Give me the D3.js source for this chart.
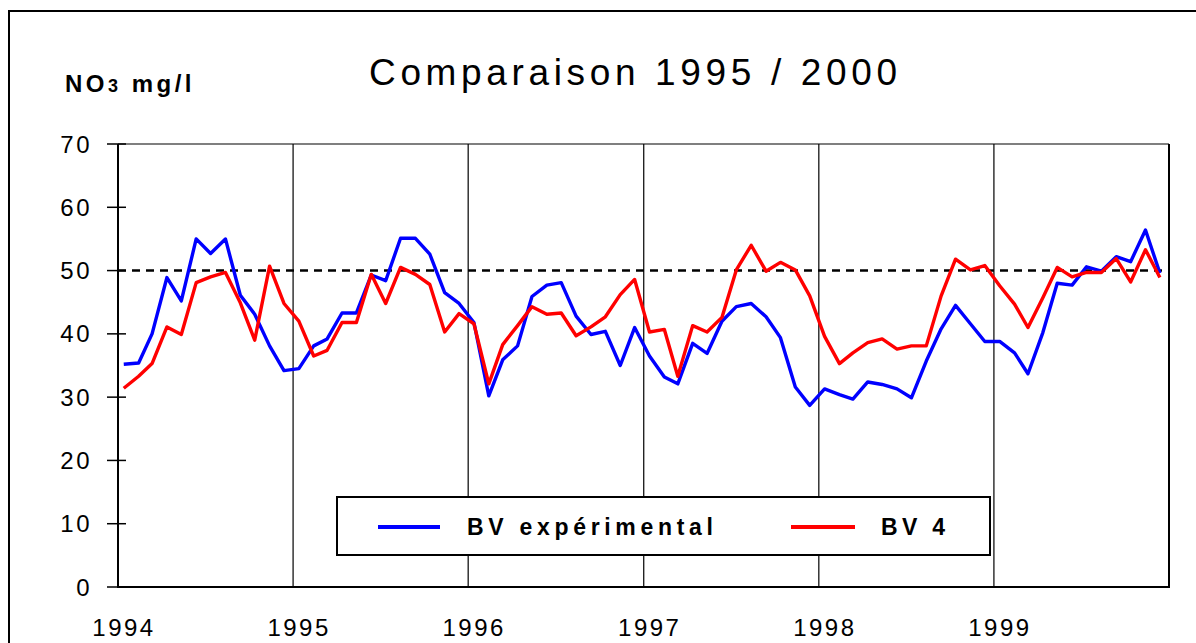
<!DOCTYPE html>
<html>
<head>
<meta charset="utf-8">
<script src="https://cdn.jsdelivr.net/npm/d3@7"></script>
<style>
  html, body { margin: 0; padding: 0; background: #fff; }
  svg { display: block; }
  text { font-family: "Liberation Sans", Arial, Helvetica, sans-serif; fill: #000; }
</style>
</head>
<body>
<svg id="chart" width="1196" height="643"></svg>
<script>
// ---- data ----
const title = "Comparaison 1995 / 2000";
const yTicks = [0, 10, 20, 30, 40, 50, 60, 70];
const yearTicks = [1994, 1995, 1996, 1997, 1998, 1999];
const threshold = 50;
const seriesNames = ["BV expérimental", "BV 4"];
const bvExperimental = [
  35.2, 35.4, 40.0, 48.9, 45.2, 55.0, 52.7, 55.0, 46.1, 43.1, 38.1, 34.2,
  34.5, 38.1, 39.2, 43.3, 43.3, 49.3, 48.4, 55.1, 55.1, 52.6, 46.5, 44.8,
  41.8, 30.2, 35.9, 38.1, 45.9, 47.7, 48.1, 42.8, 39.9, 40.4, 35.0, 41.0,
  36.5, 33.2, 32.1, 38.5, 36.9, 42.0, 44.3, 44.8, 42.7, 39.4, 31.6, 28.7,
  31.3, 30.4, 29.7, 32.4, 32.0, 31.3, 29.9, 35.7, 40.8, 44.5, 41.6, 38.8,
  38.8, 37.0, 33.7, 40.2, 48.0, 47.7, 50.6, 49.9, 52.2, 51.4, 56.4, 49.6
];
const bv4 = [
  31.4, 33.3, 35.3, 41.1, 39.9, 48.1, 49.0, 49.7, 44.9, 39.0, 50.7, 44.8,
  42.0, 36.5, 37.4, 41.8, 41.8, 49.4, 44.8, 50.5, 49.4, 47.8, 40.3, 43.2,
  41.6, 32.1, 38.3, 41.3, 44.3, 43.1, 43.3, 39.7, 41.1, 42.7, 46.2, 48.6,
  40.3, 40.7, 33.3, 41.3, 40.3, 42.6, 50.1, 54.0, 49.9, 51.3, 50.1, 46.0,
  39.6, 35.3, 37.0, 38.6, 39.2, 37.6, 38.1, 38.1, 46.0, 51.8, 50.1, 50.8,
  47.6, 44.7, 41.0, 45.7, 50.5, 49.0, 49.7, 49.7, 51.9, 48.2, 53.3, 48.9
];
const colors = ["#0000ff", "#ff0000"];

// sampling dates: one per month (around the 12th)
const months = d3.timeMonths(new Date(1994, 0, 1), new Date(2000, 0, 1))
  .map(m => d3.timeDay.offset(m, 12));

// ---- layout ----
const svg = d3.select("#chart");
const L = 118, R = 1169, T = 144, B = 587;

svg.append("rect").attr("width", 1196).attr("height", 643).attr("fill", "#fff");

// outer frame (left + top only visible)
svg.append("path").attr("d", "M9,643V11H1196")
  .attr("fill", "none").attr("stroke", "#000").attr("stroke-width", 2);

const x = d3.scaleTime()
  .domain([new Date(1994, 0, 1), new Date(2000, 0, 1)])
  .range([L, R]);
const y = d3.scaleLinear().domain([0, 70]).range([B, T]);

// title
svg.append("text")
  .attr("x", 369).attr("y", 85)
  .attr("font-size", 37)
  .attr("textLength", 528).attr("lengthAdjust", "spacing")
  .text(title);

// y-axis label
const yl = svg.append("text")
  .attr("x", 65).attr("y", 92)
  .attr("font-size", 24).attr("font-weight", "bold")
  .attr("letter-spacing", 3.5);
yl.append("tspan").text("NO");
yl.append("tspan").attr("font-size", 18).text("3");
yl.append("tspan").text(" mg/l");

// vertical year grid lines
svg.append("g").selectAll("line")
  .data(yearTicks.slice(1).concat([2000]))
  .join("line")
  .attr("x1", d => x(new Date(d, 0, 1))).attr("x2", d => x(new Date(d, 0, 1)))
  .attr("y1", T).attr("y2", B)
  .attr("stroke", "#000")
  .attr("stroke-width", d => d === 2000 ? 2 : 1.2);

// top border
svg.append("line").attr("x1", L).attr("x2", R).attr("y1", T).attr("y2", T)
  .attr("stroke", "#000").attr("stroke-width", 1.2);

// threshold dashed line
svg.append("line")
  .attr("x1", L).attr("x2", R)
  .attr("y1", y(threshold)).attr("y2", y(threshold))
  .attr("stroke", "#000").attr("stroke-width", 2.5)
  .attr("stroke-dasharray", "8,6");

// series lines
const line = d3.line()
  .x((d, i) => x(months[i]))
  .y(d => y(d));
[bvExperimental, bv4].forEach((s, k) => {
  svg.append("path")
    .datum(s)
    .attr("fill", "none")
    .attr("stroke", colors[k])
    .attr("stroke-width", 3.4)
    .attr("stroke-linejoin", "round")
    .attr("d", line);
});

// y axis
const yAxis = svg.append("g");
yAxis.append("line").attr("x1", L).attr("x2", L).attr("y1", T).attr("y2", B + 1)
  .attr("stroke", "#000").attr("stroke-width", 2);
yAxis.selectAll("line.tick").data(yTicks).join("line")
  .attr("class", "tick")
  .attr("x1", 107).attr("x2", 126)
  .attr("y1", d => y(d)).attr("y2", d => y(d))
  .attr("stroke", "#000").attr("stroke-width", 1.5);
yAxis.selectAll("text").data(yTicks).join("text")
  .attr("x", 92).attr("y", d => y(d) + 8.5)
  .attr("text-anchor", "end")
  .attr("font-size", 24)
  .attr("letter-spacing", 2.5)
  .text(d => d);

// x axis
const xAxis = svg.append("g");
xAxis.append("line").attr("x1", L - 1).attr("x2", R + 1).attr("y1", B).attr("y2", B)
  .attr("stroke", "#000").attr("stroke-width", 2);
xAxis.selectAll("text").data(yearTicks).join("text")
  .attr("x", d => x(new Date(d, 0, 1)) + 6)
  .attr("y", 636)
  .attr("text-anchor", "middle")
  .attr("font-size", 24)
  .attr("letter-spacing", 2.5)
  .text(d => d);

// legend
const lg = svg.append("g");
lg.append("rect").attr("x", 337).attr("y", 497).attr("width", 653).attr("height", 58)
  .attr("fill", "#fff").attr("stroke", "#000").attr("stroke-width", 2);
const legendItems = [
  { name: seriesNames[0], color: colors[0], x0: 378, x1: 440, tx: 467, tl: 246 },
  { name: seriesNames[1], color: colors[1], x0: 791, x1: 855, tx: 881, tl: 64 }
];
legendItems.forEach(it => {
  lg.append("line").attr("x1", it.x0).attr("x2", it.x1).attr("y1", 527).attr("y2", 527)
    .attr("stroke", it.color).attr("stroke-width", 4);
  lg.append("text").attr("x", it.tx).attr("y", 535)
    .attr("font-size", 23).attr("font-weight", "bold")
    .attr("textLength", it.tl).attr("lengthAdjust", "spacing")
    .text(it.name);
});
</script>
</body>
</html>
